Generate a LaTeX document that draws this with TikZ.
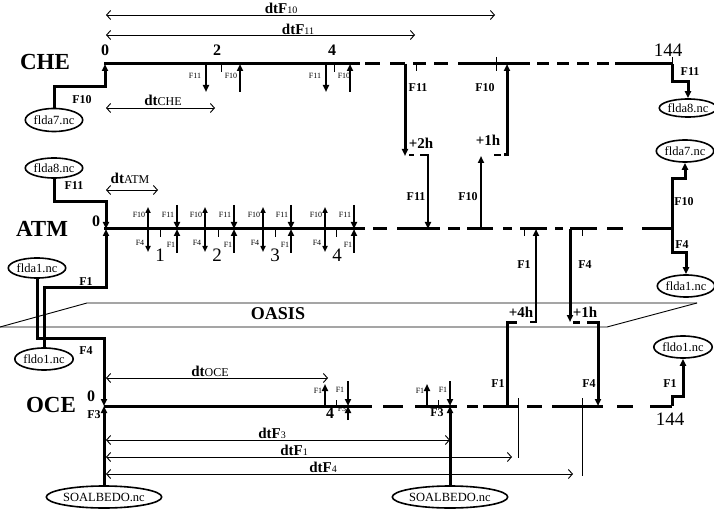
\documentclass[tikz,border=0pt]{standalone}
\usepackage{fontspec}
\setmainfont{Liberation Serif}
\usetikzlibrary{arrows.meta,shapes.geometric}
\begin{document}
\begin{tikzpicture}[x=1pt,y=-1pt,
  big/.style={font=\fontsize{23}{24}\selectfont\bfseries},
  num/.style={font=\fontsize{16}{16}\selectfont\bfseries},
  numr/.style={font=\fontsize{19}{19}\selectfont},
  flab/.style={font=\fontsize{12}{12}\selectfont\bfseries},
  tinyf/.style={font=\fontsize{8}{8}\selectfont},
  hlab/.style={font=\fontsize{15}{15}\selectfont\bfseries},
  dtlab/.style={font=\fontsize{15}{15}\selectfont},
  oasis/.style={font=\fontsize{18}{18}\selectfont\bfseries},
  file/.style={draw, ellipse, line width=1.6pt, inner sep=0pt, font=\fontsize{12.5}{12.5}\selectfont},
  tl/.style={line width=3pt},
  thk/.style={line width=3pt},
  med/.style={line width=2pt},
  thn/.style={line width=0.9pt},
  ar/.style={-{Triangle[length=7pt,width=6pt]}},
  arb/.style={{Triangle[length=6pt,width=5pt]}-{Triangle[length=6pt,width=5pt]}},
  dt/.style={line width=0.9pt,{Straight Barb[length=4pt,width=9pt]}-{Straight Barb[length=4pt,width=9pt]}}
]
\useasboundingbox (0,0) rectangle (714,510);

% ---------------- top dt arrows
\draw[dt] (106,15) -- (495,15);
\node[dtlab] (ldtf10) at (281,8) {\textbf{dtF}{\fontsize{10}{10}\selectfont 10}};
\draw[dt] (106,35) -- (415,35);
\node[dtlab] (ldtf11) at (298,29) {\textbf{dtF}{\fontsize{10}{10}\selectfont 11}};

% ---------------- CHE
\node[big] (che) at (45,62) {CHE};
\node[num] (c0) at (105,50) {0};
\node[num] (c2) at (217,50) {2};
\node[num] (c4) at (332,50) {4};
\node[numr] (c144) at (668,50) {144};
\foreach \a/\b in {104/360,365/380,390/405,413/426,434/448,458/530,537/549,557/569,577/589,597/609,615/672}
  \draw[tl] (\a,64) -- (\b,64);

\node[file, minimum width=52pt, minimum height=23pt] (flda7L) at (54,120) {flda7.nc};
\coordinate (cheZero) at (105,64);
\draw[thk, ar] (flda7L.north) |- (105,87) -- (cheZero);
\node[flab] (lf10a) at (82,100) {F10};
\draw[dt] (106,108) -- (215,108);
\node[dtlab] (ldtche) at (163,100) {\textbf{dt}{\fontsize{12}{12}\selectfont CHE}};

\foreach \d/\t/\u in {206/221/240, 326/334/350} {
  \draw[med, ar] (\d,64) -- (\d,92);
  \draw[thn] (\t,64) -- (\t,72);
  \draw[med, ar] (\u,92) -- (\u,64);
  \node[tinyf] at (\d-11,76) {F11};
  \node[tinyf] at (\t+10,76) {F10};
}

% CHE -> ATM F11 (+2h)
\coordinate (f11top) at (405,64);
\coordinate (f11mid) at (405,156);
\coordinate (f11atm) at (428,229);
\draw[thk, ar] (f11top) -- (f11mid);
\draw[med] (409,155) -- (414,155);
\draw[med, ar] (420,155) -- (428,155) -- (f11atm);
\node[flab] (lf11b) at (418,88) {F11};
\node[flab] (lf11c) at (416,197) {F11};
\node[hlab] (l2h) at (421,143) {+2h};
\draw[thn] (416,64) -- (416,71);

% ATM -> CHE F10 (+1h)
\coordinate (f10atm) at (481,229);
\coordinate (f10mid) at (481,156);
\coordinate (f10che) at (507,64);
\draw[med, ar] (f10atm) -- (f10mid);
\draw[med] (494,155) -- (501,155);
\draw[thk, ar] (504,155) -- (507,155) -- (f10che);
\node[flab] (lf10b) at (485,88) {F10};
\node[flab] (lf10c) at (468,197) {F10};
\node[hlab] (l1h) at (488,140) {+1h};
\draw[thn] (496,57) -- (496,71);

% CHE right
\draw[thn] (672,57) -- (672,64);
\node[file, minimum width=48pt, minimum height=18pt] (flda8R) at (688,108) {flda8.nc};
\draw[thk, ar] (672,64) |- (688,82) -- (flda8R.north);
\node[flab] (lf11d) at (690,72) {F11};

% ---------------- ATM
\node[big] (atm) at (42,229) {ATM};
\node[num] (a0) at (96,221) {0};
\foreach \a/\b in {104/365,373/387,397/440,448/460,467/493,503/512,520/547,555/563,570/597,607/623,642/672}
  \draw[tl] (\a,229) -- (\b,229);

\node[file, minimum width=55pt, minimum height=20pt] (flda8L) at (54,168) {flda8.nc};
\draw[thk, ar] (flda8L.south) |- (106,202) -- (106,229);
\node[flab] (lf11a) at (74,186) {F11};
\draw[dt] (106,190) -- (158,190);
\node[dtlab] (ldtatm) at (130,178) {\textbf{dt}{\fontsize{12}{12}\selectfont ATM}};

\foreach \a/\t/\v/\n in {148/160/177/1, 205/218/234/2, 263/275/291/3, 325/336/354/4} {
  \draw[med, arb] (\a,207) -- (\a,252);
  \draw[thn] (\t,229) -- (\t,237);
  \draw[med, ar] (\v,205) -- (\v,229);
  \draw[med, ar] (\v,253) -- (\v,229);
  \node[tinyf] at (\a-9,215) {F10};
  \node[tinyf] at (\v-9,215) {F11};
  \node[tinyf] at (\a-8,243) {F4};
  \node[tinyf] at (\v-6,245) {F1};
  \node[numr] at (\a+12,255) {\n};
}

% ATM right
\node[file, minimum width=46pt, minimum height=22pt] (flda7R) at (685,151) {flda7.nc};
\node[file, minimum width=54pt, minimum height=22pt] (flda1R) at (686,286) {flda1.nc};
\draw[thk, ar] (672,229) |- (685,179) -- (flda7R.south);
\draw[thk, ar] (672,229) |- (686,253) -- (flda1R.north);
\node[flab] (lf10d) at (684,202) {F10};
\node[flab] (lf4d) at (682,245) {F4};

% ATM <-> OCE exchanges
\draw[thn] (524,229) -- (524,236);
\draw[thn] (582,229) -- (582,236);
\coordinate (f1oce) at (507,406);
\coordinate (f1atm) at (536,229);
\draw[thk] (f1oce) -- (507,322) -- (517,322);
\draw[med, ar] (530,322) -- (536,322) -- (f1atm);
\coordinate (f4atm) at (570,229);
\coordinate (f4oce) at (598,406);
\draw[thk, ar] (f4atm) -- (570,322);
\draw[thk] (573,322) -- (580,322);
\draw[thk, ar] (587,322) -- (598,322) -- (f4oce);
\node[hlab] (l4h) at (521,312) {+4h};
\node[hlab] (l1hb) at (585,312) {+1h};
\node[flab] (lf1e) at (524,265) {F1};
\node[flab] (lf4e) at (585,265) {F4};
\node[flab] (lf1f) at (498,384) {F1};
\node[flab] (lf4f) at (589,384) {F4};

% ---------------- OASIS
\draw[thn] (0,327) -- (87,303) -- (697,303);
\draw[thn] (0,327) -- (607,327) -- (697,303);
\node[oasis] (oas) at (278,314) {OASIS};

% left files crossing
\node[file, minimum width=52pt, minimum height=20pt] (flda1L) at (37,268) {flda1.nc};
\node[file, minimum width=52pt, minimum height=22pt] (fldo1L) at (44,359) {fldo1.nc};
\draw[thk, ar] (flda1L.south) |- (104,338) -- (104,406);
\draw[thk, ar] (fldo1L.north) |- (106,288) -- (106,229);
\node[flab] (lf1a) at (86,282) {F1};
\node[flab] (lf4a) at (86,351) {F4};

% ---------------- OCE
\node[big] (oce) at (51,405) {OCE};
\node[num] (o0) at (91,396) {0};
\node[flab] (lf3a) at (94,415) {F3};
\foreach \a/\b in {104/372,383/403,415/457,467/478,483/518,527/542,552/603,617/633,650/672}
  \draw[tl] (\a,406) -- (\b,406);

\node[file, minimum width=113pt, minimum height=22pt] (soal1) at (104,497) {SOALBEDO.nc};
\node[file, minimum width=113pt, minimum height=22pt] (soal2) at (450,497) {SOALBEDO.nc};
\draw[thk, ar] (soal1.north) -- (104,406);

\draw[dt] (106,378) -- (328,378);
\node[dtlab] (ldtoce) at (210,371) {\textbf{dt}{\fontsize{12}{12}\selectfont OCE}};

\draw[med, ar] (325,406) -- (325,384);
\draw[thn] (336,400) -- (336,406);
\draw[med, ar] (348,381) -- (348,406);
\draw[med, ar] (348,420) -- (348,406);
\node[num] (o4) at (330,413) {4};
\node[tinyf] at (342,409) {F3};
\node[tinyf] at (318,391) {F1};
\node[tinyf] at (340,390) {F1};

\draw[med, ar] (427,406) -- (427,384);
\draw[thn] (438,400) -- (438,406);
\draw[med, ar] (450,381) -- (450,406);
\draw[thk, ar] (soal2.north) -- (450,406);
\node[tinyf] at (420,391) {F1};
\node[tinyf] at (443,390) {F1};
\node[flab] (lf3b) at (437,413) {F3};

\draw[thn] (518,398) -- (518,458);
\draw[thn] (582,398) -- (582,476);

\draw[dt] (106,440) -- (450,440);
\node[dtlab] (ldtf3) at (272,433) {\textbf{dtF}{\fontsize{10}{10}\selectfont 3}};
\draw[dt] (106,457) -- (512,457);
\node[dtlab] (ldtf1) at (294,450) {\textbf{dtF}{\fontsize{10}{10}\selectfont 1}};
\draw[dt] (106,474) -- (573,474);
\node[dtlab] (ldtf4) at (323,467) {\textbf{dtF}{\fontsize{10}{10}\selectfont 4}};

% OCE right
\node[file, minimum width=55pt, minimum height=22pt] (fldo1R) at (683,347) {fldo1.nc};
\draw[thk, ar] (672,406) |- (683,396) -- (fldo1R.south);
\node[flab] (lf1g) at (670,384) {F1};
\node[numr] (o144) at (670,419) {144};
\end{tikzpicture}
\end{document}
